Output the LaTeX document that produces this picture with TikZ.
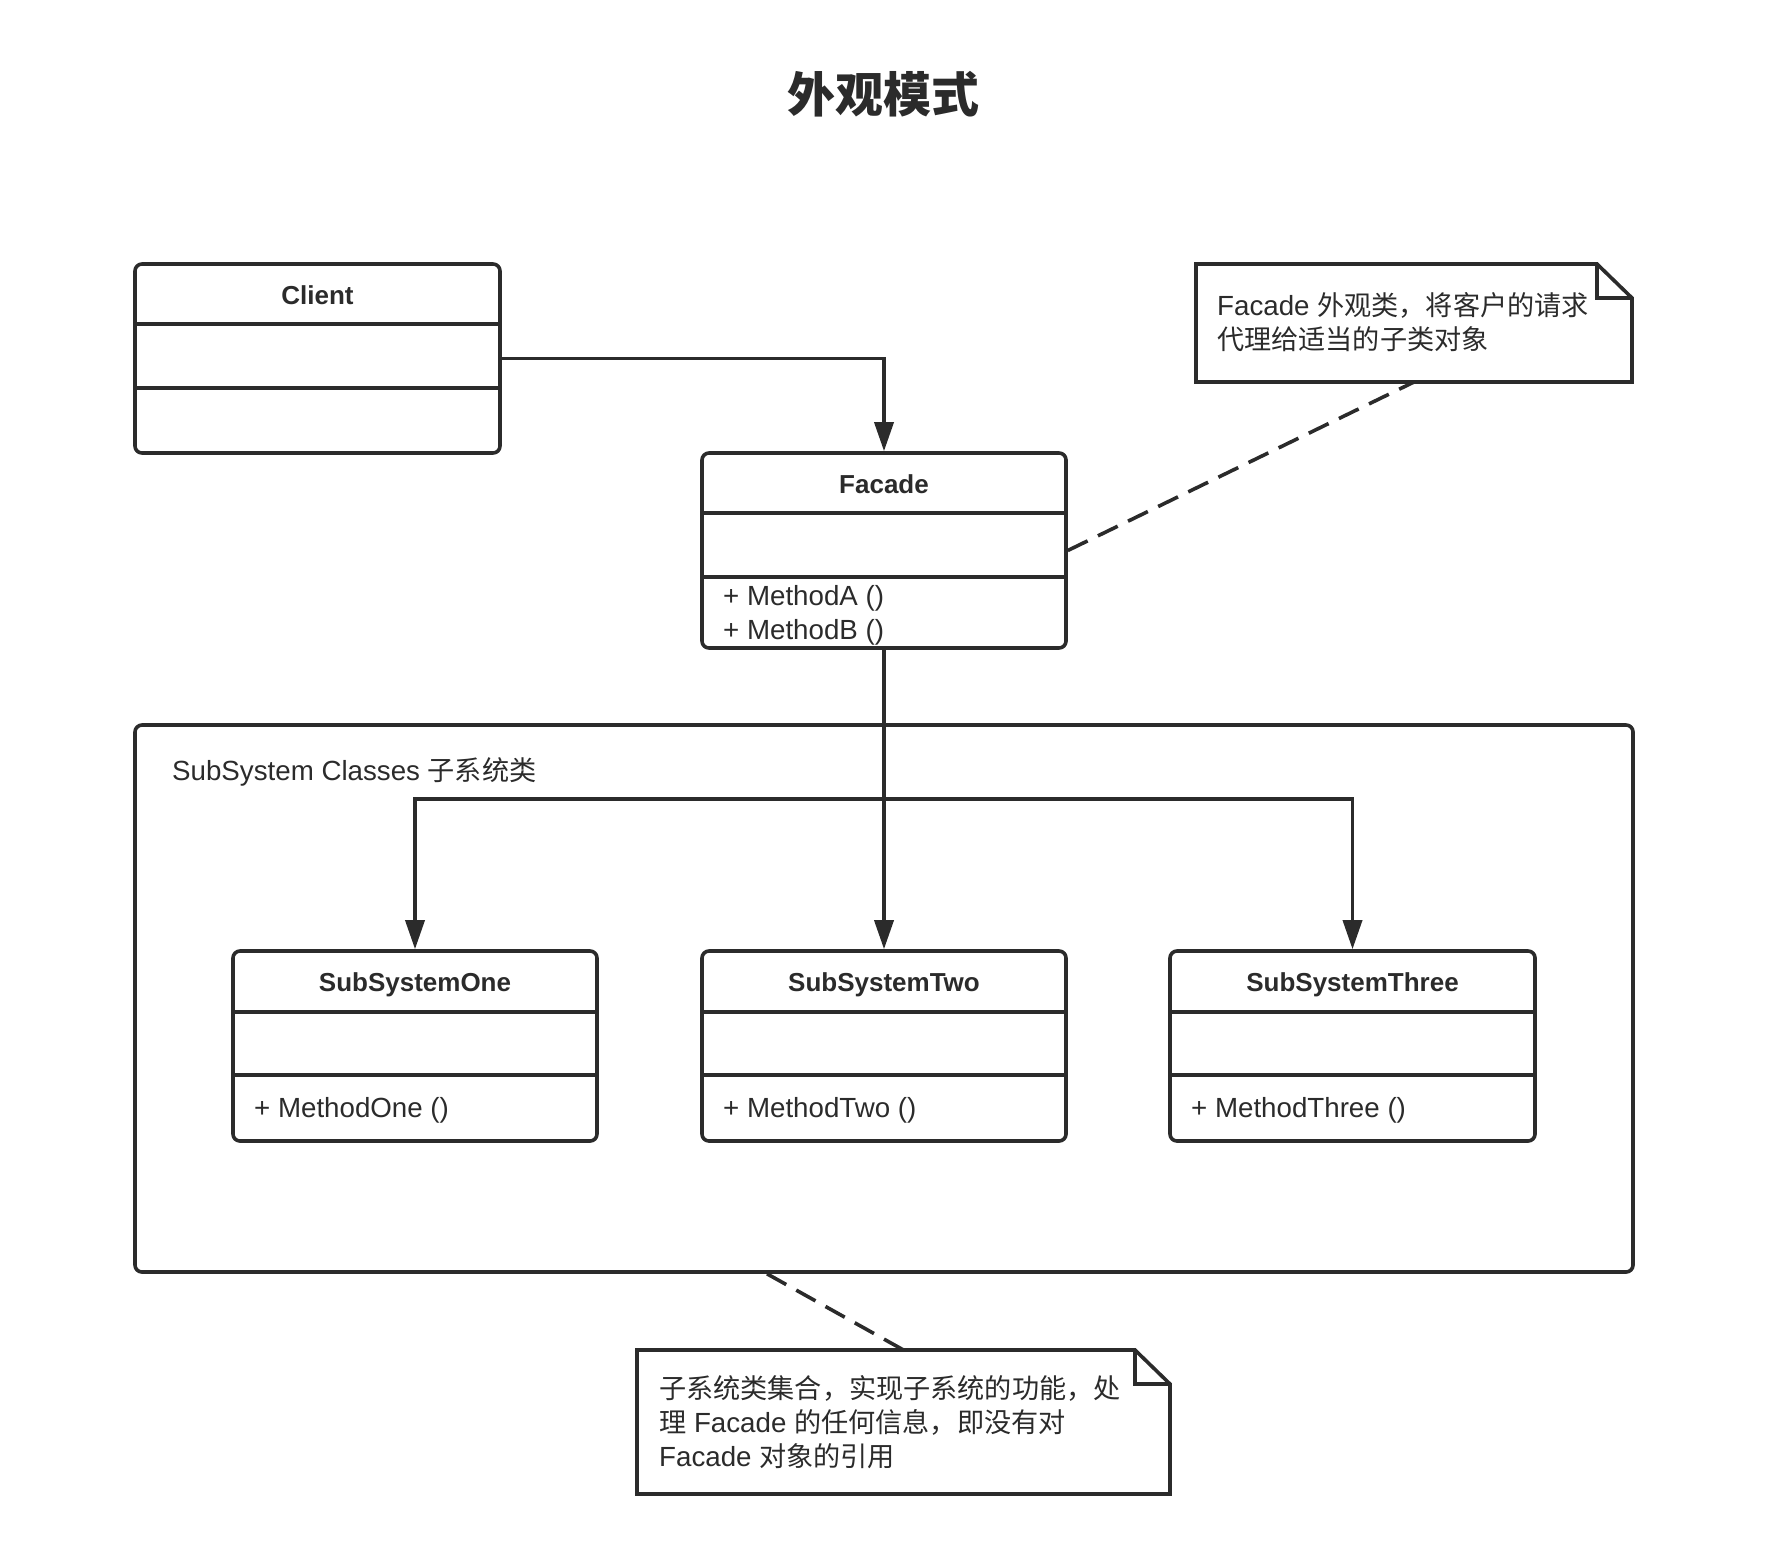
\documentclass[tikz,border=0pt]{standalone}
\usepackage{fontspec}
\setmainfont{Liberation Sans}
\newfontfamily\cjk[Scale=0.98]{Noto Sans CJK SC}
\newfontfamily\cjktitle{Noto Sans CJK SC}
\usetikzlibrary{arrows.meta}
\definecolor{ink}{HTML}{2B2B2B}
\begin{document}
\begin{tikzpicture}[x=1pt,y=-1pt,
  every node/.style={text=ink},
  box/.style={draw=ink, line width=3.6pt, rounded corners=7pt, inner sep=0pt},
  sepline/.style={draw=ink, line width=3.6pt},
  ctitle/.style={font=\fontsize{26}{32}\selectfont\bfseries, inner sep=0pt},
  body/.style={font=\fontsize{27.7}{34}\selectfont, align=left, anchor=west, inner sep=0pt},
  conn/.style={draw=ink, line width=3.6pt, -{Triangle[length=29pt,width=19pt]}},
  dashconn/.style={draw=ink, line width=3.6pt, dash pattern=on 22pt off 11.5pt},
  noteframe/.style={inner sep=0pt, outer sep=0pt},
  noteline/.style={draw=ink, line width=3.6pt, line join=miter}
]
\useasboundingbox (0,0) rectangle (1776,1542);

% title
\node[font=\fontsize{48}{56}\selectfont] (title) at (883,94) {\cjktitle\bfseries 外观模式};

% Client
\node[box, minimum width=365pt, minimum height=189pt] (client) at (317.5,358.5) {};
\draw[sepline] ([yshift=-62pt]client.north west) -- ([yshift=-62pt]client.north east);
\draw[sepline] ([yshift=-126pt]client.north west) -- ([yshift=-126pt]client.north east);
\node[ctitle] (clientT) at (317.5,295) {Client};

% Facade
\node[box, minimum width=364pt, minimum height=195pt] (facade) at (884,550.5) {};
\draw[sepline] ([yshift=-62pt]facade.north west) -- ([yshift=-62pt]facade.north east);
\draw[sepline] ([yshift=-126pt]facade.north west) -- ([yshift=-126pt]facade.north east);
\node[ctitle] (facadeT) at (884,484) {Facade};
\node[body] (facadeM) at (723,615) {+ MethodA ()\\+ MethodB ()};

% SubSystem container
\node[box, minimum width=1498pt, minimum height=547pt] (sub) at (884,998.5) {};
\node[body] (subL) at (172,772) {SubSystem Classes {\cjk 子系统类}};

% Subsystems
\node[box, minimum width=364pt, minimum height=190pt] (one) at (415,1046) {};
\node[box, minimum width=364pt, minimum height=190pt] (two) at (884,1046) {};
\node[box, minimum width=365pt, minimum height=190pt] (three) at (1352.5,1046) {};
\foreach \n in {one,two,three}{
  \draw[sepline] ([yshift=-63pt]\n.north west) -- ([yshift=-63pt]\n.north east);
  \draw[sepline] ([yshift=-126pt]\n.north west) -- ([yshift=-126pt]\n.north east);
}
\node[ctitle] (oneT) at (415,985) {SubSystemOne};
\node[ctitle] (twoT) at (884,985) {SubSystemTwo};
\node[ctitle] (threeT) at (1352.5,985) {SubSystemThree};
\node[body] (oneM) at (254,1110) {+ MethodOne ()};
\node[body] (twoM) at (723,1110) {+ MethodTwo ()};
\node[body] (threeM) at (1191,1110) {+ MethodThree ()};

% Note 1
\node[noteframe, minimum width=436pt, minimum height=118pt] (note1) at (1414,323) {};
\draw[noteline] (note1.north west) -- ([xshift=-35pt]note1.north east) -- ([yshift=-34pt]note1.north east) -- (note1.south east) -- (note1.south west) -- cycle;
\draw[noteline] ([xshift=-35pt]note1.north east) -- ([xshift=-35pt,yshift=-34pt]note1.north east) -- ([yshift=-34pt]note1.north east);
\node[body] (note1T) at (1217,322) {Facade {\cjk 外观类，将客户的请求}\\{\cjk 代理给适当的子类对象}};

% Note 2
\node[noteframe, minimum width=533pt, minimum height=144pt] (note2) at (903.5,1422) {};
\draw[noteline] (note2.north west) -- ([xshift=-35pt]note2.north east) -- ([yshift=-34pt]note2.north east) -- (note2.south east) -- (note2.south west) -- cycle;
\draw[noteline] ([xshift=-35pt]note2.north east) -- ([xshift=-35pt,yshift=-34pt]note2.north east) -- ([yshift=-34pt]note2.north east);
\node[body] (note2T) at (659,1422) {{\cjk 子系统类集合，实现子系统的功能，处}\\{\cjk 理} Facade {\cjk 的任何信息，即没有对}\\Facade {\cjk 对象的引用}};

% connectors
\draw[conn] (client.east) -| (facade.north);
\draw[conn] (facade.south) -- (two.north);
\coordinate (bus) at (884,799);
\draw[conn] (bus) -| (one.north);
\draw[conn] (bus) -| (three.north);
\draw[dashconn] (facade.east) -- (note1.south);
\draw[dashconn] ([xshift=-117pt]sub.south) -- (note2.north);
\end{tikzpicture}
\end{document}
